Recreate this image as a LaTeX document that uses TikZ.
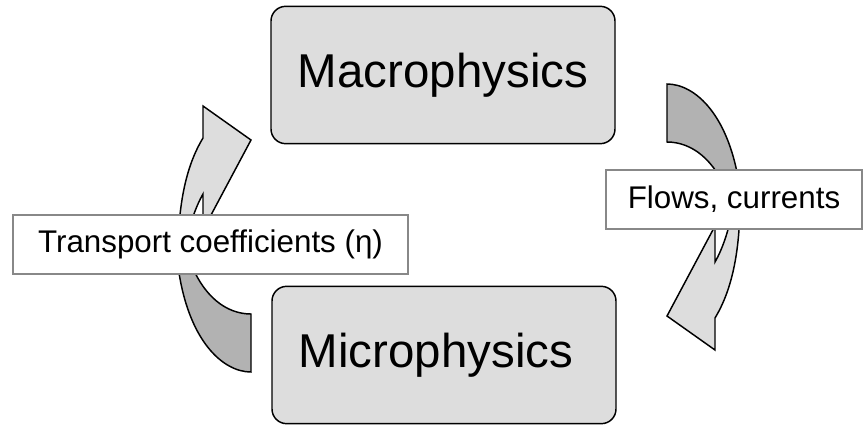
\documentclass[tikz,border=0pt]{standalone}
\usepackage{fontspec}
\setmainfont{Liberation Sans}
\definecolor{boxfill}{RGB}{221,221,221}
\definecolor{arrowback}{RGB}{178,178,178}
\definecolor{arrowfront}{RGB}{221,221,221}
\definecolor{labelline}{RGB}{136,136,136}
\begin{document}
\begin{tikzpicture}[x=0.75pt, y=-0.75pt,
                    physbox/.style={draw, line width=1.1pt, fill=boxfill, rounded corners=11pt,
                      minimum width=258pt, minimum height=103pt, font=\fontsize{35.6}{42}\selectfont},
                    labelbox/.style={draw=labelline, line width=1.1pt, fill=white, inner xsep=2pt,
                      minimum height=44pt, font=\fontsize{23.5}{28}\selectfont},
                    backpart/.style={draw, line width=1.1pt, fill=arrowback},
                    frontpart/.style={draw, line width=1.1pt, fill=arrowfront}]
  \useasboundingbox (0,0) rectangle (865,426);
  \foreach \ang in {0,180} {
    \begin{scope}[rotate around={\ang:(459,228)}]
      \draw[backpart] (667,84) .. controls (695,84) and (730,115) .. (740,190)
        -- (728,195) .. controls (715,160) and (692,142) .. (667,142) -- cycle;
      \draw[frontpart] (740,190) .. controls (741,250) and (732,290) .. (715,318)
        -- (715,350) -- (667,316) -- (715,226) -- (715,262)
        .. controls (722,250) and (732,225) .. (735,190) -- cycle;
    \end{scope}
  }
  \node[physbox] (macro) at (443,75) {Macrophysics};
  \node[physbox] (micro) at (444,355) {Microphysics\hspace*{12pt}};
  \node[labelbox, minimum width=192pt] (flows) at (734,199.5) {Flows, currents};
  \node[labelbox, minimum width=296pt] (coeff) at (210.5,244.5) {Transport coefficients (η)};
\end{tikzpicture}
\end{document}
